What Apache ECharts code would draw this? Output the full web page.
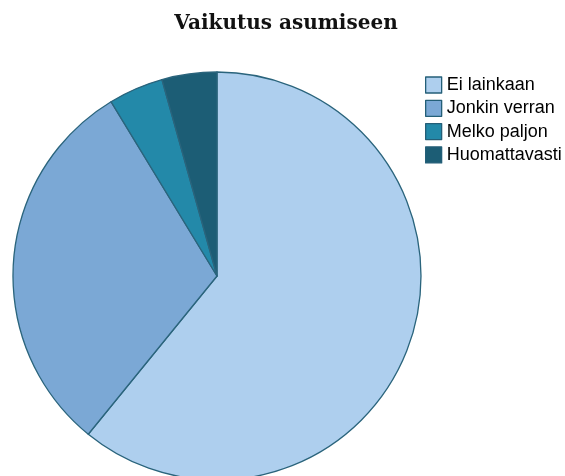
<!DOCTYPE html>
<html lang="fi">
<head>
    <meta charset="UTF-8">
    <title>Vaikutus asumiseen</title>
    <script src="https://cdn.jsdelivr.net/npm/echarts@6/dist/echarts.min.js"></script>
    <style>
        html, body { margin: 0; padding: 0; background: #fff; }
        #chart { width: 565px; height: 476px; }
    </style>
</head>
<body>
    <div id="chart"></div>
    <script>
        var categories = ['Ei lainkaan', 'Jonkin verran', 'Melko paljon', 'Huomattavasti'];
        var values = [28, 14, 2, 2];
        var colors = ['#aecfee', '#7ba8d5', '#2389a9', '#1c5d75'];

        var myChart = echarts.init(document.getElementById('chart'));

        var option = {
            animation: false,
            title: {
                text: 'Vaikutus asumiseen',
                left: 281,
                top: 9,
                textAlign: 'center',
                textStyle: {
                    fontFamily: 'DejaVu Serif',
                    fontWeight: 'bold',
                    fontSize: 20,
                    color: '#111'
                }
            },
            legend: {
                orient: 'vertical',
                left: 425,
                top: 76,
                padding: 0,
                itemWidth: 16,
                itemHeight: 16,
                itemGap: 5.3,
                icon: 'rect',
                itemStyle: { borderColor: '#245f78', borderWidth: 1.3 },
                textStyle: {
                    fontFamily: 'Liberation Sans',
                    fontSize: 18,
                    lineHeight: 16,
                    color: '#000'
                },
                data: categories
            },
            series: [{
                type: 'pie',
                center: [217, 276],
                radius: 204,
                startAngle: 90,
                clockwise: true,
                label: { show: false },
                labelLine: { show: false },
                itemStyle: {
                    borderColor: '#2a647c',
                    borderWidth: 1.3
                },
                data: categories.map(function (c, i) {
                    return { name: c, value: values[i], itemStyle: { color: colors[i] } };
                })
            }]
        };
        myChart.setOption(option);
    </script>
</body>
</html>
